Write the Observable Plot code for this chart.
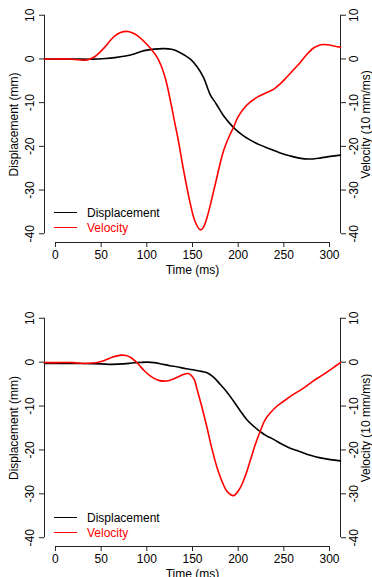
<!DOCTYPE html>
<html>
<head>
<meta charset="utf-8">
<script src="https://cdn.jsdelivr.net/npm/d3@7"></script>
<script src="https://cdn.jsdelivr.net/npm/@observablehq/plot@0.6"></script>
<style>
  html, body { margin: 0; padding: 0; background: #fff; }
  #wrap { position: relative; width: 372px; height: 577px; overflow: hidden; font-family: "Liberation Sans", Arial, sans-serif; }
  .panel { position: absolute; left: 0; }
  .legline { position: absolute; height: 0; }
  .legtext { position: absolute; font-size: 12px; line-height: 14px; white-space: nowrap; }
</style>
</head>
<body>
<div id="wrap"></div>
<script>
// ---- data ----
const xTicks = [0, 50, 100, 150, 200, 250, 300];
const yTicks = [10, 0, -10, -20, -30, -40];
const xTitle = "Time (ms)";
const yTitleLeft = "Displacement (mm)";
const yTitleRight = "Velocity (10 mm/ms)";
const seriesNames = ["Displacement", "Velocity"];
const seriesColors = ["#000000", "#ff0000"];

// Top panel
const topDispTime = [-12, 0, 20, 40, 55, 65, 75, 87, 97, 108, 119, 127, 134, 141, 148, 155, 162, 169.5, 176, 184, 191, 197, 204, 211, 223, 235, 246, 257, 267, 277, 289, 301, 312];
const topDisp     = [0, 0, 0, -0.05, 0.1, 0.3, 0.6, 1.2, 1.9, 2.25, 2.35, 2.2, 1.7, 0.9, -0.1, -1.8, -4.2, -8.2, -10.3, -13, -14.8, -16.1, -17.3, -18.3, -19.6, -20.6, -21.5, -22.2, -22.7, -22.9, -22.7, -22.3, -22.0];
const topVelTime  = [-12, 0, 15, 25, 32, 38, 43, 48, 54, 60, 65, 72, 78, 84, 90, 97, 104.6, 110, 115.6, 121, 126.5, 130, 133.8, 141, 148, 153, 158.6, 162, 166, 170, 175, 184, 190, 195, 200, 206, 213, 220.5, 230, 239, 246, 253, 260, 268, 275, 282.5, 288, 293.5, 300, 306, 312];
const topVel      = [0, 0, 0, -0.2, -0.3, 0, 0.5, 1.4, 2.7, 4.2, 5.3, 6.1, 6.3, 6.0, 5.3, 4.0, 2.3, 0.8, -1.5, -5, -10.3, -14, -17.9, -26.3, -33.5, -37.3, -39.1, -38.5, -36.2, -33, -28.6, -21, -17.8, -15.6, -13.2, -11.4, -9.9, -8.8, -7.8, -6.9, -5.7, -4.2, -2.6, -0.8, 1.0, 2.5, 3.1, 3.3, 3.2, 2.9, 2.7];

// Bottom panel
const botDispTime = [-12, 0, 30, 50, 61, 75, 86, 101, 108, 115.6, 125, 133.8, 143, 152, 160, 166, 173, 180.5, 188, 195, 202, 209.5, 217, 224, 231, 238.8, 248, 257, 268, 279, 290, 301, 312];
const botDisp     = [-0.3, -0.3, -0.3, -0.4, -0.5, -0.4, -0.15, 0, -0.1, -0.4, -0.8, -1.1, -1.5, -1.8, -2.1, -2.4, -3.4, -5.1, -6.9, -8.9, -11.0, -13.1, -14.6, -15.8, -16.8, -17.6, -18.7, -19.6, -20.4, -21.2, -21.8, -22.2, -22.5];
const botVelTime  = [-12, 0, 20, 30, 40, 47, 53.6, 62, 71.8, 77, 82.8, 90, 97, 103, 108, 114, 121, 127, 133.8, 140, 145, 148, 152, 155, 160, 166, 171, 177, 183, 188, 195, 202, 208, 213, 218, 224, 229, 235, 242, 249.7, 260, 271.5, 282, 293.5, 303, 312];
const botVel      = [-0.1, -0.1, -0.1, -0.3, -0.2, 0.0, 0.4, 1.1, 1.6, 1.5, 1.0, -0.3, -1.9, -3.0, -3.7, -4.2, -4.3, -4.0, -3.4, -2.8, -2.6, -2.9, -4.0, -6.2, -10.0, -15, -19.5, -24.1, -27.5, -29.5, -30.4, -28.7, -25.8, -22.6, -19.2, -15.8, -13.3, -11.6, -10.1, -8.9, -7.4, -5.9, -4.3, -2.8, -1.4, -0.1];

// ---- chart ----
const xMin = d3.min(xTicks), xMax = d3.max(xTicks);
const yMin = d3.min(yTicks), yMax = d3.max(yTicks);
const xPad = 0.04 * (xMax - xMin), yPad = 0.04 * (yMax - yMin);
const font = "'Liberation Sans', Arial, sans-serif";
const axisColor = "#222";

function series(time, vals) { return time.map((t, i) => ({t, v: vals[i]})); }

function panel({disp, vel, top, marginTop, marginBottom}) {
  const p = Plot.plot({
    width: 372,
    height: 290,
    marginLeft: 44,
    marginRight: 32,
    marginTop,
    marginBottom,
    style: {fontFamily: font, fontSize: "12px", background: "transparent", color: "#000", overflow: "visible"},
    x: {domain: [xMin - xPad, xMax + xPad]},
    y: {domain: [yMin - yPad, yMax + yPad]},
    marks: [
      // bottom axis
      Plot.ruleY([yMin - yPad], {x1: xMin, x2: xMax, stroke: axisColor, strokeWidth: 1}),
      Plot.axisX({ticks: xTicks, tickSize: 5, tickPadding: 3, label: null, stroke: axisColor, fontSize: 12}),
      Plot.text([xTitle], {frameAnchor: "bottom", dy: 28, lineAnchor: "middle", fontSize: 12}),
      // left axis
      Plot.ruleX([xMin - xPad], {y1: yMin, y2: yMax, stroke: axisColor, strokeWidth: 1}),
      Plot.axisY({ticks: yTicks, tickSize: 5, tickFormat: () => "", label: null, anchor: "left", stroke: axisColor}),
      Plot.text(yTicks, {y: d => d, text: d => String(d), frameAnchor: "left", dx: -14, rotate: -90, textAnchor: "middle", lineAnchor: "middle", fontSize: 12}),
      Plot.text([yTitleLeft], {frameAnchor: "left", dx: -30, rotate: -90, textAnchor: "middle", lineAnchor: "middle", fontSize: 12}),
      // right axis
      Plot.ruleX([xMax + xPad], {y1: yMin, y2: yMax, stroke: axisColor, strokeWidth: 1}),
      Plot.axisY({ticks: yTicks, tickSize: 5, tickFormat: () => "", label: null, anchor: "right", stroke: axisColor}),
      Plot.text(yTicks, {y: d => d, text: d => String(d), frameAnchor: "right", dx: 14, rotate: -90, textAnchor: "middle", lineAnchor: "middle", fontSize: 12}),
      Plot.text([yTitleRight], {frameAnchor: "right", dx: 26, rotate: -90, textAnchor: "middle", lineAnchor: "middle", fontSize: 12}),
      // data
      Plot.line(disp, {x: "t", y: "v", stroke: seriesColors[0], strokeWidth: 1.6, curve: "catmull-rom"}),
      Plot.line(vel, {x: "t", y: "v", stroke: seriesColors[1], strokeWidth: 1.6, curve: "catmull-rom"})
    ]
  });
  p.classList.add("panel");
  p.style.top = top + "px";
  return p;
}

const wrap = document.getElementById("wrap");
wrap.appendChild(panel({disp: series(topDispTime, topDisp), vel: series(topVelTime, topVel), top: 0, marginTop: 6, marginBottom: 48}));
wrap.appendChild(panel({disp: series(botDispTime, botDisp), vel: series(botVelTime, botVel), top: 290, marginTop: 19, marginBottom: 34}));

// legends
function legend(y0) {
  seriesNames.forEach((name, i) => {
    const y = y0 + i * 15;
    const ln = document.createElement("div");
    ln.className = "legline";
    ln.style.left = "54px"; ln.style.width = "23px";
    ln.style.top = (y - 1) + "px";
    ln.style.borderTop = "1.6px solid " + seriesColors[i];
    wrap.appendChild(ln);
    const tx = document.createElement("div");
    tx.className = "legtext";
    tx.style.left = "87px"; tx.style.top = (y - 7) + "px";
    tx.style.color = i === 0 ? "#000" : seriesColors[i];
    tx.textContent = name;
    wrap.appendChild(tx);
  });
}
legend(213);
legend(518);
</script>
</body>
</html>
